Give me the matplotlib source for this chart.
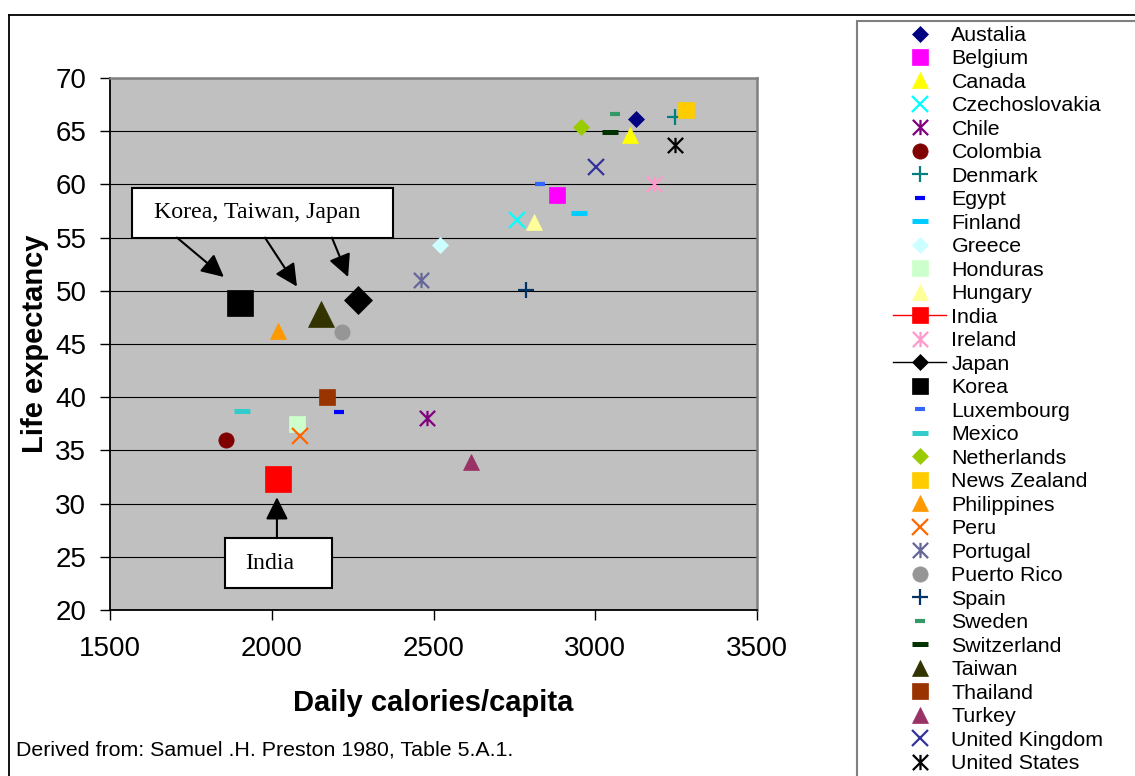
import matplotlib
matplotlib.use("Agg")
import matplotlib.pyplot as plt
from matplotlib.lines import Line2D
from matplotlib.patches import Rectangle
from matplotlib.path import Path

plt.rcParams["font.family"] = ["Liberation Sans", "DejaVu Sans"]

# data
countries = ["Austalia", "Belgium", "Canada", "Czechoslovakia", "Chile", "Colombia",
             "Denmark", "Egypt", "Finland", "Greece", "Honduras", "Hungary", "India",
             "Ireland", "Japan", "Korea", "Luxembourg", "Mexico", "Netherlands",
             "News Zealand", "Philippines", "Peru", "Portugal", "Puerto Rico", "Spain",
             "Sweden", "Switzerland", "Taiwan", "Thailand", "Turkey", "United Kingdom",
             "United States"]
calories = [3126, 2883, 3107, 2759, 2479, 1859, 3246, 2209, 2949, 2520, 2078, 2812,
            2020, 3182, 2266, 1903, 2829, 1908, 2956, 3279, 2020, 2088, 2460, 2218,
            2786, 3061, 3047, 2152, 2171, 2617, 3003, 3246]
life = [66.1, 59.0, 64.6, 56.7, 38.0, 36.0, 66.3, 38.6, 57.3, 54.3, 37.5, 56.5,
        32.3, 60.0, 49.1, 48.9, 60.0, 38.7, 65.4, 67.0, 46.2, 36.4, 51.0, 46.1,
        50.1, 66.6, 64.9, 47.8, 40.0, 33.9, 61.6, 63.7]

# Excel-like asterisk marker
star = Path([(0, -1), (0, 1), (-1, -1), (1, 1), (-1, 1), (1, -1)],
            [Path.MOVETO, Path.LINETO, Path.MOVETO, Path.LINETO, Path.MOVETO, Path.LINETO])

# (marker, colour, size in plot, line width, legend line?)
styles = [
    ("D", "#000080", 8.0, 0.5, False),
    ("s", "#FF00FF", 11, 0.5, False),
    ("^", "#FFFF00", 11, 0.5, False),
    ("x", "#00FFFF", 11, 1.6, False),
    (star, "#800080", 11, 1.6, False),
    ("o", "#800000", 11, 0.5, False),
    ("+", "#008080", 11.5, 1.6, False),
    ("_", "#0000FF", 7.2, 3.0, False),
    ("_", "#00CCFF", 12, 3.6, False),
    ("D", "#CCFFFF", 8.0, 0.5, False),
    ("s", "#CCFFCC", 11, 0.5, False),
    ("^", "#FFFF99", 11, 0.5, False),
    ("s", "#FF0000", 19, 0.5, True),
    (star, "#FF99CC", 11, 1.6, False),
    ("D", "#000000", 14.5, 0.5, True),
    ("s", "#000000", 19, 0.5, False),
    ("_", "#3366FF", 7.2, 3.0, False),
    ("_", "#33CCCC", 12, 3.6, False),
    ("D", "#99CC00", 8.0, 0.5, False),
    ("s", "#FFCC00", 11, 0.5, False),
    ("^", "#FF9900", 11, 0.5, False),
    ("x", "#FF6600", 11, 1.6, False),
    (star, "#666699", 11, 1.6, False),
    ("o", "#969696", 11, 0.5, False),
    ("+", "#003366", 11.5, 1.6, False),
    ("_", "#339966", 7.2, 3.0, False),
    ("_", "#003300", 12, 3.6, False),
    ("^", "#333300", 19, 0.5, False),
    ("s", "#993300", 11, 0.5, False),
    ("^", "#993366", 11, 0.5, False),
    ("x", "#333399", 11, 1.6, False),
    (star, "#000000", 11, 1.6, False),
]

W, H = 1135, 776
fig = plt.figure(figsize=(W / 100, H / 100), dpi=100)
ax = fig.add_axes([110 / W, 1 - 610 / H, 647 / W, 532 / H])
ax.set_facecolor("#C0C0C0")

handles = []
for name, xv, yv, st in zip(countries, calories, life, styles):
    mk, col, ms, mw, legline = st
    ax.plot([xv], [yv], linestyle="none", marker=mk, color=col, markersize=ms,
            markeredgewidth=mw, zorder=3)
    lms = min(ms, 11.5) if mk != "D" else 8.0
    handles.append(Line2D([], [], linestyle="-" if legline else "none", lw=1.0,
                          color=col, marker=mk, markersize=lms, markeredgewidth=mw,
                          label=name))

ax.set_xlim(1500, 3500)
ax.set_ylim(20, 70)
ax.set_xticks([1500, 2000, 2500, 3000, 3500])
ax.set_yticks(range(20, 71, 5))
ax.tick_params(axis="both", labelsize=20, length=7, width=1, direction="out")
ax.tick_params(axis="x", pad=12)
ax.tick_params(axis="y", pad=10)
ax.grid(axis="y", color="black", lw=0.8)
ax.set_axisbelow(True)
for s in ["left", "bottom"]:
    ax.spines[s].set_color("black")
    ax.spines[s].set_linewidth(1.3)
for s in ["top", "right"]:
    ax.spines[s].set_color("#808080")
    ax.spines[s].set_linewidth(1.8)

fig.text(433.5 / W, 1 - 703 / H, "Daily calories/capita", fontsize=21,
         fontweight="bold", ha="center", va="center")
fig.text(35 / W, 1 - 343.5 / H, "Life expectancy", fontsize=21, fontweight="bold",
         rotation=90, ha="center", va="center")
fig.text(16 / W, 1 - 750 / H, "Derived from: Samuel .H. Preston 1980, Table 5.A.1.",
         fontsize=15.4, ha="left", va="center")

# annotation boxes and arrows
ax.add_patch(Rectangle((1568, 55.0), 807, 4.68, facecolor="white", edgecolor="black",
                       lw=1.5, zorder=4))
ax.text(1954, 57.35, "Korea, Taiwan, Japan", family="Liberation Serif", fontsize=17.2,
        ha="center", va="center", zorder=5)
ax.add_patch(Rectangle((1855, 22.06), 331, 4.69, facecolor="white", edgecolor="black",
                       lw=1.5, zorder=4))
ax.text(1995, 24.35, "India", family="Liberation Serif", fontsize=17.2,
        ha="center", va="center", zorder=5)

arrow = dict(arrowstyle="-|>,head_length=0.8,head_width=0.4", mutation_scale=17,
             color="black", lw=1.5, shrinkA=0, shrinkB=0)
for (x0, y0), (x1, y1) in [((1707, 55.0), (1852, 51.3)),
                           ((1979, 55.0), (2078, 50.4)),
                           ((2186, 55.0), (2236, 51.3)),
                           ((2016, 26.75), (2016, 30.6))]:
    ax.annotate("", xy=(x1, y1), xytext=(x0, y0), arrowprops=arrow, zorder=5)

# chart frame and legend frame
fig.add_artist(Line2D([9 / W, 1.0], [1 - 15 / H, 1 - 15 / H], color="black", lw=1.3))
fig.add_artist(Line2D([9 / W, 9 / W], [0, 1 - 15 / H], color="black", lw=1.3))
fig.add_artist(Rectangle((857 / W, -0.05), 0.3, 1.05 - 21 / H, facecolor="white",
                         edgecolor="#808080", lw=1.5, transform=fig.transFigure))

fig.legend(handles=handles, loc="upper left", bbox_to_anchor=(893 / W, 1 - 26 / H),
           frameon=False, fontsize=15.4, borderpad=0, borderaxespad=0,
           handlelength=2.48, handletextpad=0.25, labelspacing=0.21, numpoints=1)

fig.savefig("out.png", dpi=100)
